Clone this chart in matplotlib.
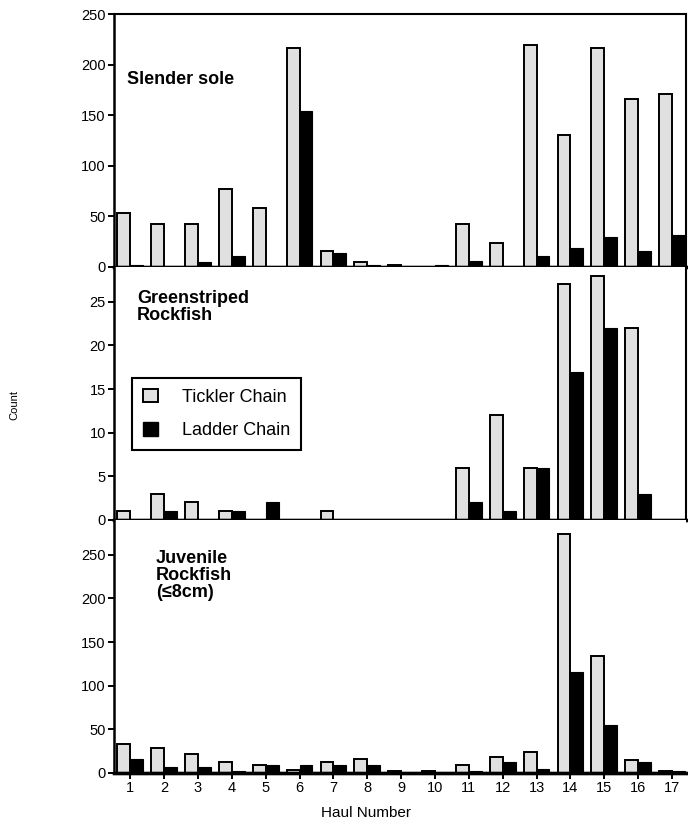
import matplotlib
matplotlib.use("Agg")
import matplotlib.pyplot as plt
from matplotlib.patches import Patch

# ----------------------------
# Data
# ----------------------------
hauls = list(range(1, 18))

sole_tickler = [53, 42, 42, 77, 58, 216, 16, 5, 2, 0, 42, 24, 219, 130, 216, 166, 171]
sole_ladder = [2, 0, 5, 11, 0, 154, 14, 2, 0, 2, 6, 0, 11, 19, 30, 16, 32]

green_tickler = [1, 3, 2, 1, 0, 0, 1, 0, 0, 0, 6, 12, 6, 27, 28, 22, 0]
green_ladder = [0, 1, 0, 1, 2, 0, 0, 0, 0, 0, 2, 1, 6, 17, 22, 3, 0]

juv_tickler = [33, 29, 22, 12, 9, 3, 12, 16, 2, 2, 9, 18, 24, 274, 134, 15, 2]
juv_ladder = [16, 7, 7, 2, 9, 9, 9, 9, 0, 0, 2, 12, 5, 116, 55, 12, 2]

panel_titles = ["Slender sole", "Greenstriped\nRockfish", "Juvenile\nRockfish\n(\u22648cm)"]
series_names = ["Tickler Chain", "Ladder Chain"]

plt.rcParams["font.family"] = ["Liberation Sans", "DejaVu Sans"]

TICKLER_COLOR = "#e0e0e0"
BAR_W = 0.38


# ----------------------------
# One panel
# ----------------------------
def draw_panel(ax, tickler, ladder, ymax, yticks):
    x = list(hauls)
    ax.bar([v - BAR_W / 2 for v in x], tickler, width=BAR_W,
           color=TICKLER_COLOR, edgecolor="black", linewidth=1.4, zorder=2)
    ax.bar([v + BAR_W / 2 for v in x], ladder, width=BAR_W,
           color="black", edgecolor="black", linewidth=0.8, zorder=3)
    ax.set_ylim(0, ymax)
    ax.set_yticks(yticks)
    ax.set_xlim(0.528, 17.41)
    ax.set_xticks(x)
    ax.tick_params(direction="out", length=4, width=1.4, labelsize=10.5, pad=2)
    ax.axhline(0, color="black", linewidth=2.4, zorder=4, clip_on=False)
    ax.spines["left"].set_linewidth(1.8)
    ax.spines["bottom"].set_linewidth(2.4)
    ax.spines["top"].set_linewidth(1.5)
    ax.spines["right"].set_linewidth(1.5)


fig = plt.figure(figsize=(6.88, 8.24), dpi=100)
axes = fig.subplots(3, 1, sharex=True,
                    gridspec_kw={"hspace": 0, "left": 0.166, "right": 0.997,
                                 "bottom": 0.062, "top": 0.983})

draw_panel(axes[0], sole_tickler, sole_ladder, 250, range(0, 251, 50))
draw_panel(axes[1], green_tickler, green_ladder, 29, range(0, 26, 5))
draw_panel(axes[2], juv_tickler, juv_ladder, 290, range(0, 251, 50))

axes[1].spines["top"].set_visible(False)
axes[2].spines["top"].set_visible(False)
axes[2].spines["right"].set_visible(False)

axes[0].tick_params(labelbottom=False)
axes[1].tick_params(labelbottom=False)
axes[2].set_xticklabels([str(h) for h in hauls])

# panel labels
axes[0].text(0.023, 0.74, panel_titles[0], transform=axes[0].transAxes,
             fontsize=13, fontweight="bold", va="center", ha="left")
axes[1].text(0.04, 0.84, panel_titles[1], transform=axes[1].transAxes,
             fontsize=13, fontweight="bold", va="center", ha="left", linespacing=1.0)
axes[2].text(0.073, 0.78, panel_titles[2], transform=axes[2].transAxes,
             fontsize=13, fontweight="bold", va="center", ha="left", linespacing=1.0)

# legend
handles = [Patch(facecolor=TICKLER_COLOR, edgecolor="black", linewidth=1.4),
           Patch(facecolor="black", edgecolor="black")]
leg = axes[1].legend(handles, series_names, loc="upper left",
                     bbox_to_anchor=(0.031, 0.56), fontsize=13, frameon=True,
                     fancybox=False, edgecolor="black", framealpha=1,
                     handlelength=0.85, handleheight=0.75, handletextpad=1.3,
                     labelspacing=0.9, borderpad=0.6, borderaxespad=0)
leg.get_frame().set_linewidth(1.5)

# axis labels
fig.text(366 / 688, 1 - 813 / 824, "Haul Number", ha="center", va="center", fontsize=11)
fig.text(14 / 688, 1 - 405 / 824, "Count", ha="center", va="center", rotation=90,
         fontsize=8, family=["Liberation Sans Narrow", "Liberation Sans", "DejaVu Sans"])

fig.savefig("out.png", dpi=100)
